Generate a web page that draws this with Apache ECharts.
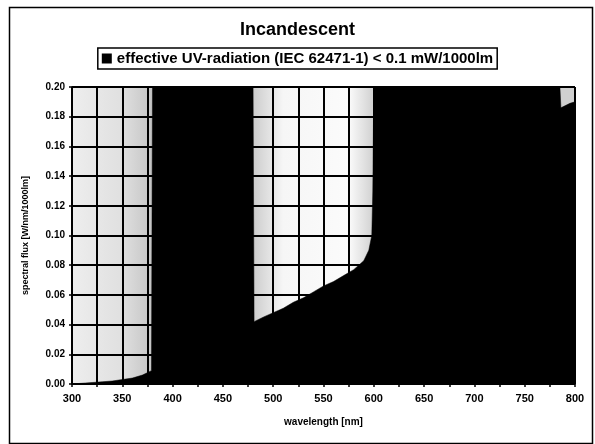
<!DOCTYPE html>
<html>
<head>
<meta charset="utf-8">
<script src="https://cdn.jsdelivr.net/npm/echarts@6/dist/echarts.min.js"></script>
<style>html,body{margin:0;padding:0;background:#fff}#c{width:595px;height:444px}</style>
</head>
<body>
<div id="c"></div>
<script>
// wavelength [nm]
const wavelengths = [300,310,320,330,340,350,360,370,379,380,480,481,490,500,510,520,530,540,550,560,570,580,590,595,598,599,600,785,786,795,800];
// spectral flux [W/nm/1000lm]
const flux = [0.000,0.0005,0.001,0.0015,0.002,0.003,0.004,0.006,0.009,0.2,0.2,0.042,0.045,0.048,0.051,0.055,0.058,0.062,0.066,0.069,0.073,0.077,0.083,0.09,0.10,0.13,0.2,0.2,0.186,0.189,0.19];
const yTicks = [0.00,0.02,0.04,0.06,0.08,0.10,0.12,0.14,0.16,0.18,0.20];
const xLabels = [300,350,400,450,500,550,600,650,700,750,800];

const chart = echarts.init(document.getElementById('c'));
const font = 'Liberation Sans, Arial, sans-serif';
chart.setOption({
  animation: false,
  backgroundColor: '#fff',
  title: {
    text: 'Incandescent', left: 'center', top: 16,
    textStyle: {fontFamily: font, fontSize: 18, fontWeight: 'bold', color: '#000'}
  },
  legend: {
    top: 48, left: 'center',
    data: ['effective UV-radiation (IEC 62471-1) < 0.1 mW/1000lm'],
    icon: 'rect', itemWidth: 10, itemHeight: 10, itemGap: 4,
    borderColor: '#000', borderWidth: 1.5, padding: [3, 4, 3, 4],
    textStyle: {fontFamily: font, fontSize: 15, fontWeight: 'bold', color: '#000'}
  },
  graphic: [{
    type: 'rect', left: 7, top: 5, shape: {width: 583, height: 436},
    style: {fill: 'none', stroke: '#000', lineWidth: 1.5}, silent: true, z: -1
  }],
  grid: {
    left: 72, right: 20, top: 87, bottom: 60,
    show: true, borderColor: '#000', borderWidth: 1,
    backgroundColor: {
      type: 'linear', x: 0, y: 0, x2: 1, y2: 0,
      colorStops: [
        {offset: 0, color: '#eeeeee'},
        {offset: 0.1, color: '#e0e0e0'},
        {offset: 0.16, color: '#c4c4c4'},
        {offset: 0.36, color: '#cccccc'},
        {offset: 0.42, color: '#f6f6f6'},
        {offset: 0.55, color: '#fbfbfb'},
        {offset: 0.6, color: '#d0d0d0'},
        {offset: 1, color: '#d0d0d0'}
      ]
    }
  },
  xAxis: {
    type: 'value', min: 300, max: 800, interval: 25,
    name: 'wavelength [nm]', nameLocation: 'middle', nameGap: 33,
    nameTextStyle: {fontFamily: font, fontSize: 10, fontWeight: 'bold', color: '#000'},
    axisLine: {lineStyle: {color: '#000', width: 1.5}},
    axisTick: {show: true, length: 3, lineStyle: {color: '#000', width: 1.5}},
    axisLabel: {
      fontFamily: font, fontSize: 11, fontWeight: 'bold', color: '#000', margin: 9,
      formatter: v => xLabels.indexOf(v) >= 0 ? String(v) : ''
    },
    splitLine: {show: true, lineStyle: {color: '#000', width: 2}}
  },
  yAxis: {
    type: 'value', min: 0, max: 0.2, interval: 0.02,
    name: 'spectral flux [W/nm/1000lm]', nameLocation: 'middle', nameGap: 42,
    nameTextStyle: {fontFamily: font, fontSize: 9, fontWeight: 'bold', color: '#000'},
    axisLine: {show: true, lineStyle: {color: '#000', width: 1.5}},
    axisTick: {show: true, length: 3, lineStyle: {color: '#000', width: 1.5}},
    axisLabel: {
      fontFamily: font, fontSize: 10, fontWeight: 'bold', color: '#000', margin: 7,
      formatter: v => { const t = yTicks.find(x => Math.abs(x - v) < 1e-9); return (t !== undefined ? t : v).toFixed(2); }
    },
    splitLine: {show: true, lineStyle: {color: '#000', width: 2}}
  },
  series: [{
    name: 'effective UV-radiation (IEC 62471-1) < 0.1 mW/1000lm',
    type: 'line', symbol: 'none', clip: true,
    data: wavelengths.map((w, i) => [w, flux[i]]),
    itemStyle: {color: '#000'},
    lineStyle: {color: '#000', width: 0.5},
    areaStyle: {color: '#000', opacity: 1},
    z: 3
  }]
});
</script>
</body>
</html>
